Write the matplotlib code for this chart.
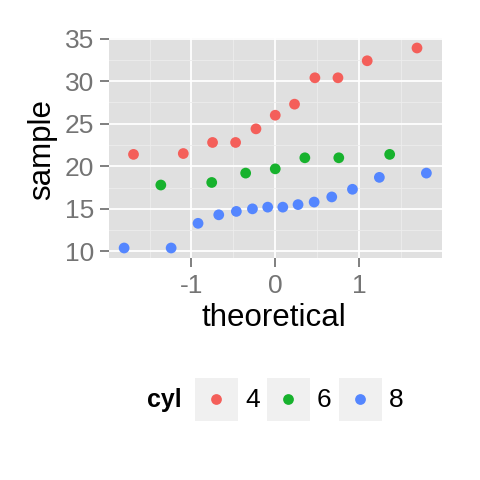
import numpy as np
import matplotlib.pyplot as plt
from matplotlib.patches import Rectangle

plt.rcParams['font.family'] = ['Liberation Sans', 'DejaVu Sans']
plt.rcParams['axes.unicode_minus'] = False

# mtcars mpg by cylinder, sorted, with normal theoretical quantiles
groups = ['4', '6', '8']
colors = ['#F45F5A', '#17B22D', '#5486FF']

theo_4 = [-1.691, -1.097, -0.748, -0.473, -0.230, 0.0, 0.230, 0.473, 0.748, 1.097, 1.691]
mpg_4 = [21.4, 21.5, 22.8, 22.8, 24.4, 26.0, 27.3, 30.4, 30.4, 32.4, 33.9]

theo_6 = [-1.365, -0.758, -0.353, 0.0, 0.353, 0.758, 1.365]
mpg_6 = [17.8, 18.1, 19.2, 19.7, 21.0, 21.0, 21.4]

theo_8 = [-1.803, -1.242, -0.921, -0.674, -0.464, -0.272, -0.090,
          0.090, 0.272, 0.464, 0.674, 0.921, 1.242, 1.803]
mpg_8 = [10.4, 10.4, 13.3, 14.3, 14.7, 15.0, 15.2, 15.2, 15.5, 15.8, 16.4, 17.3, 18.7, 19.2]

theo = [theo_4, theo_6, theo_8]
mpg = [mpg_4, mpg_6, mpg_8]

W = H = 480.0
fig = plt.figure(figsize=(4.8, 4.8), dpi=100)

# panel in pixel coords
px0, px1, py0, py1 = 109, 441.5, 38, 258
ax = fig.add_axes([px0 / W, 1 - py1 / H, (px1 - px0) / W, (py1 - py0) / H])
ax.set_facecolor('#E0E0E0')
for s in ax.spines.values():
    s.set_visible(False)

for t, m, c in zip(theo, mpg, colors):
    ax.scatter(t, m, s=60, color=c, edgecolors='none', zorder=3)

allx = np.concatenate([np.array(t) for t in theo])
ally = np.concatenate([np.array(m) for m in mpg])
dx = (allx.max() - allx.min()) * 0.05
dy = (ally.max() - ally.min()) * 0.05
ax.set_xlim(allx.min() - dx, allx.max() + dx)
ax.set_ylim(ally.min() - dy, ally.max() + dy)

ax.set_xticks([-1, 0, 1])
ax.set_yticks([10, 15, 20, 25, 30, 35])
ax.set_xticks([-1.5, -0.5, 0.5, 1.5], minor=True)
ax.set_yticks([12.5, 17.5, 22.5, 27.5, 32.5], minor=True)
ax.grid(which='major', color='white', linewidth=1.3)
ax.grid(which='minor', color='#EDEDED', linewidth=0.6)
ax.set_axisbelow(True)
ax.tick_params(which='major', length=6.5, width=1.4, color='#7F7F7F',
               labelcolor='#747474', labelsize=19, pad=4)
ax.tick_params(axis='x', pad=5)
ax.tick_params(which='minor', length=0)

fig.text(42 / W, 1 - 150 / H, 'sample', rotation=90, ha='center', va='center', fontsize=22.5)
fig.text(274 / W, 1 - 318 / H, 'theoretical', ha='center', va='center', fontsize=22.5)

# legend drawn by hand in pixel space
lax = fig.add_axes([0, 0, 1, 1])
lax.set_xlim(0, W)
lax.set_ylim(H, 0)
lax.axis('off')
lax.text(164, 400, 'cyl', ha='center', va='center', fontsize=18, fontweight='bold')
for i, (g, c) in enumerate(zip(groups, colors)):
    kx = 195 + i * 72
    lax.add_patch(Rectangle((kx, 378), 43, 43, facecolor='#F0F0F0', edgecolor='none'))
    lax.scatter([kx + 21.5], [399.5], s=60, color=c, edgecolors='none')
    lax.text(kx + 50, 400, g, ha='left', va='center', fontsize=19)

fig.savefig('out.png', dpi=100)
